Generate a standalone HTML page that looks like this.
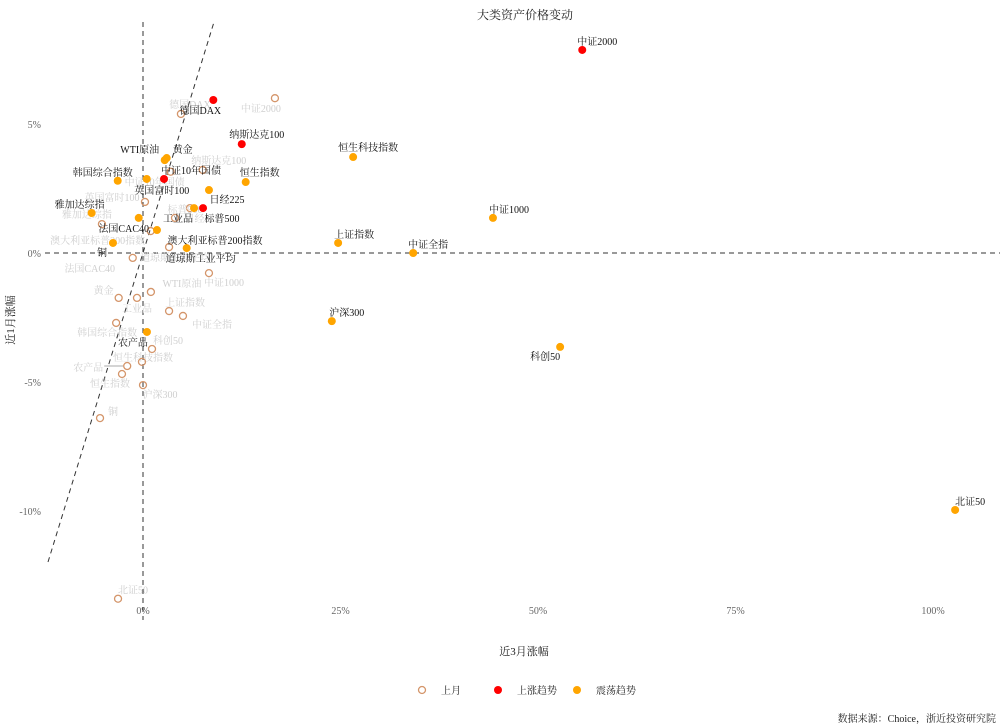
<!DOCTYPE html>
<html><head><meta charset="utf-8"><style>
body{margin:0;background:#fff}
svg{display:block;font-family:"Liberation Serif","Noto Serif CJK SC",serif}
</style></head><body>
<svg id="chart" width="1000" height="725" viewBox="0 0 1000 725" xmlns="http://www.w3.org/2000/svg">
<text x="525" y="19" font-size="12" text-anchor="middle" fill="#222">大类资产价格变动</text>
<g id="axes"></g>
<g id="prev"></g>
<g id="cur"></g>
<text x="524" y="655" font-size="11" text-anchor="middle" fill="#222">近3月涨幅</text>
<text transform="translate(14,320) rotate(-90)" font-size="11" text-anchor="middle" fill="#222">近1月涨幅</text>
<g>
<circle cx="422" cy="690" r="3.5" fill="none" stroke="#d4956a" stroke-width="1.3"/>
<text x="441" y="694" font-size="10" fill="#222">上月</text>
<circle cx="498" cy="690" r="4" fill="#ff0000"/>
<text x="517" y="694" font-size="10" fill="#222">上涨趋势</text>
<circle cx="577" cy="690" r="4" fill="#ffa500"/>
<text x="596" y="694" font-size="10" fill="#222">震荡趋势</text>
</g>
<text x="996" y="722" font-size="10" text-anchor="end" fill="#222">数据来源：Choice，浙近投资研究院</text>
</svg>
<script>
const names=["中证2000","德国DAX","纳斯达克100","恒生科技指数","恒生指数","黄金","WTI原油","中证10年国债","韩国综合指数","英国富时100","日经225","标普500","工业品","雅加达综指","法国CAC40","澳大利亚标普200指数","道琼斯工业平均","铜","中证1000","上证指数","中证全指","沪深300","科创50","北证50","农产品"];
const cur3m=[55.6,8.9,12.5,26.6,13.0,3.0,2.75,2.66,-3.2,0.47,8.35,7.6,6.46,-6.5,-0.54,1.77,5.53,-3.8,44.3,24.7,34.2,23.9,52.8,102.8,0.5];
const cur1m=[7.87,5.93,4.22,3.72,2.75,3.68,3.6,2.87,2.8,2.87,2.44,1.74,1.74,1.55,1.36,0.89,0.19,0.39,1.36,0.39,0.0,-2.64,-3.64,-9.96,-3.06];
const trend=["up","up","up","range","range","range","range","up","range","range","range","up","range","range","range","range","range","range","range","range","range","range","range","range","range"];
const prev3m=[16.7,4.8,7.56,-0.13,-2.66,-3.08,1.0,3.5,-3.4,0.25,5.95,4.05,-0.76,-5.2,-1.3,0.97,3.3,-5.44,8.35,3.3,5.06,0.0,1.14,-3.16,-2.0];
const prev1m=[6.0,5.39,3.22,-4.22,-4.69,-1.74,-1.51,3.15,-2.71,1.98,1.74,1.36,-1.74,1.12,-0.19,0.85,0.23,-6.4,-0.78,-2.25,-2.44,-5.12,-3.72,-13.4,-4.38];
const xTicks=[0,25,50,75,100];
const yTicks=[5,0,-5,-10];
// label layout (pixel offsets)
const curOff=[[15,-9],[-13,10],[15,-10],[15,-10],[14,-10],[16,-9],[-25,-11],[27,-9],[-15,-9],[15,11],[18,9],[19,10],[-16,10],[-12,-9],[-15,10],[58,10],[14,10],[-11,9],[16,-9],[16,-9],[15,-9],[15,-9],[-15,9],[15,-9],[-14,10]];
const prevOff=[[-14,10],[9,-10],[16,-10],[1,-5],[-12,9],[-15,-8],[31,-9],[-16,10],[-9,9],[-33,-5],[12,10],[10,-9],[0,10],[-15,-10],[-43,10],[-53,9],[6,10],[13,-7],[15,9],[16,-9],[29,8],[17,9],[16,-9],[15,-9],[-39,1]];
const X=v=>143+v*7.9, Y=v=>253-v*25.8;
const NS="http://www.w3.org/2000/svg";
function mk(tag,attrs,parent){const e=document.createElementNS(NS,tag);for(const k in attrs)e.setAttribute(k,attrs[k]);parent.appendChild(e);return e;}
const ax=document.getElementById('axes'),pg=document.getElementById('prev'),cg=document.getElementById('cur');
xTicks.forEach(t=>{const e=mk('text',{x:X(t),y:614,'font-size':10,'text-anchor':'middle',fill:'#666'},ax);e.textContent=t+'%';

});
yTicks.forEach(t=>{const e=mk('text',{x:41,y:Y(t)+4,'font-size':10,'text-anchor':'end',fill:'#666'},ax);e.textContent=t+'%';

});
let l=mk('line',{x1:45,x2:1000,y1:Y(0),y2:Y(0),stroke:'#333','stroke-dasharray':'5,4','stroke-width':1},ax);


l=mk('line',{x1:X(0),x2:X(0),y1:22,y2:620,stroke:'#333','stroke-dasharray':'5,4','stroke-width':1},ax);


l=mk('line',{x1:48,x2:214,y1:562,y2:22,stroke:'#333','stroke-dasharray':'5,4','stroke-width':1},ax);


names.forEach((n,i)=>{
 const px=X(prev3m[i]),py=Y(prev1m[i]);
 const t=mk('text',{x:px+prevOff[i][0],y:py+prevOff[i][1]+4,'font-size':10,'text-anchor':'middle',fill:'#cfcfcf'},pg);t.textContent=n;
 
 
 if(i===24){const ln=mk('line',{x1:px+prevOff[i][0]+16,y1:py,x2:px-4,y2:py,stroke:'#aaa'},pg);
 
 }
 const c=mk('circle',{cx:px,cy:py,r:3.5,fill:'none',stroke:'#d4956a','stroke-width':1.3},pg);
 
 
});
names.forEach((n,i)=>{
 const px=X(cur3m[i]),py=Y(cur1m[i]);
 const c=mk('circle',{cx:px,cy:py,r:4,fill:trend[i]==='up'?'#ff0000':'#ffa500'},cg);
 
 
 const t=mk('text',{x:px+curOff[i][0],y:py+curOff[i][1]+4,'font-size':10,'text-anchor':'middle',fill:'#111'},cg);t.textContent=n;
 
 
});
</script>
</body></html>
